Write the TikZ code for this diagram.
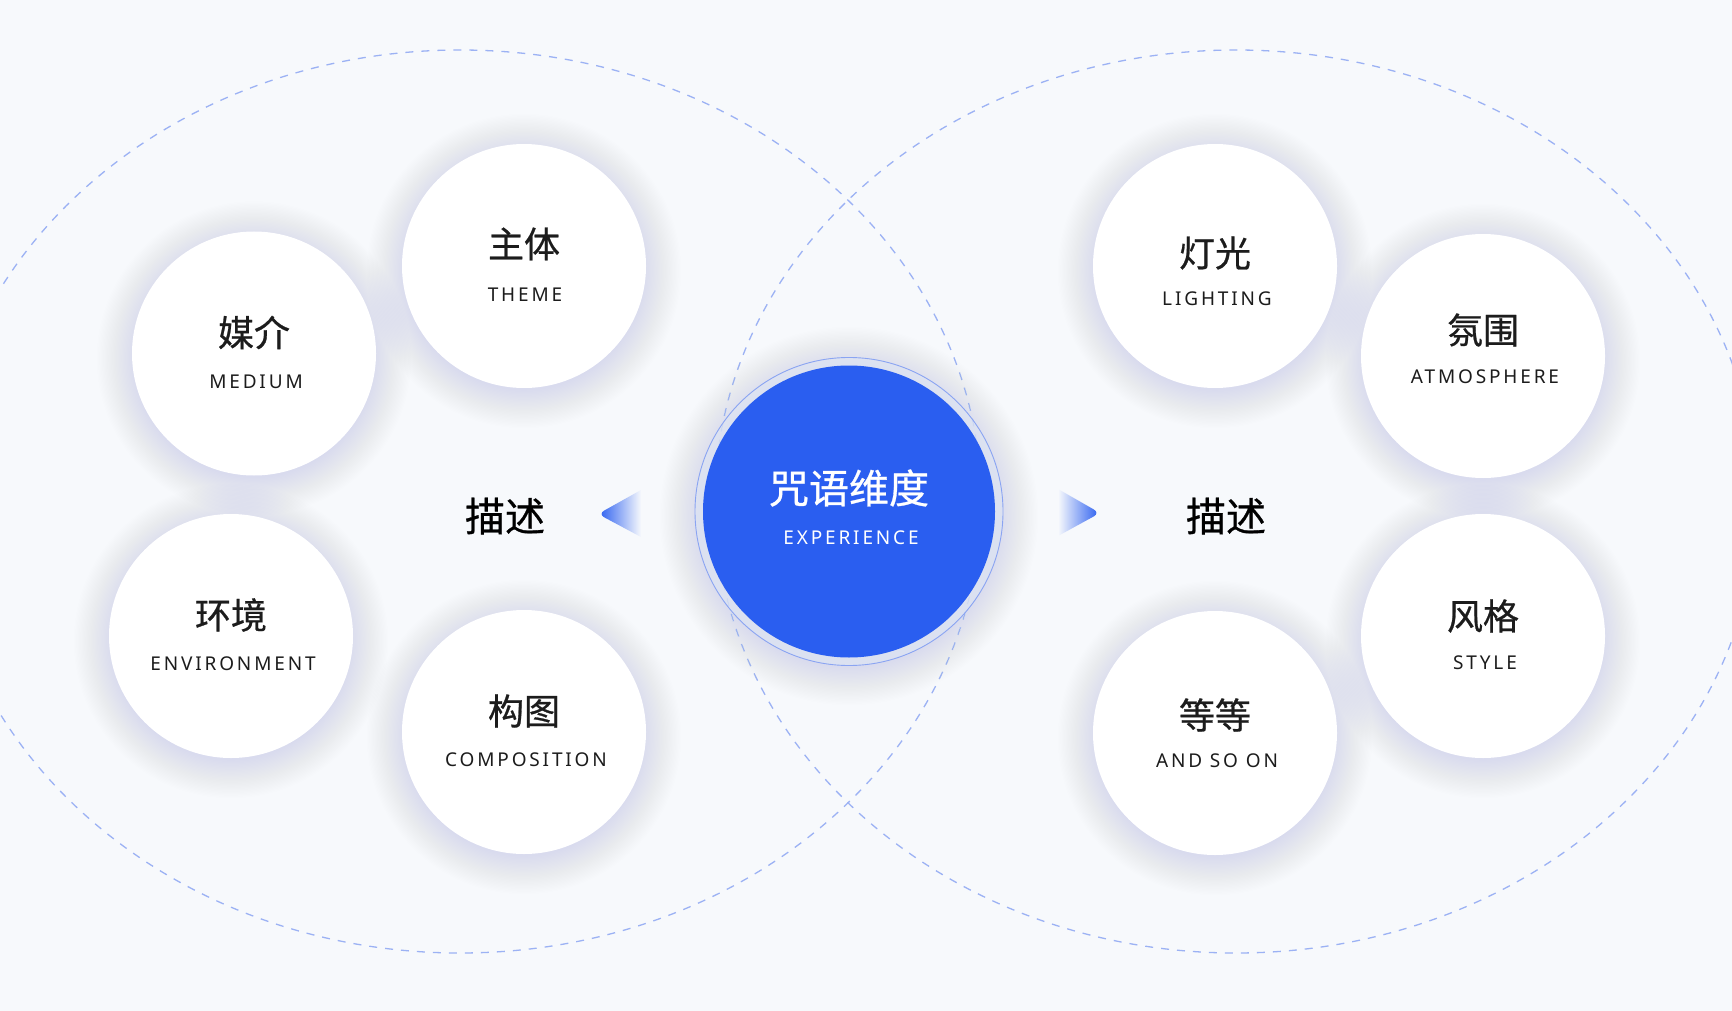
\documentclass[tikz,border=0pt]{standalone}
\usepackage{fontspec}
\setmainfont{Noto Sans CJK SC}
\newfontfamily\cjk[FakeBold=0.7]{Noto Sans CJK SC}
\newfontfamily\lat[LetterSpace=15]{Noto Sans}
\definecolor{bg}{HTML}{F7F9FC}
\definecolor{blue0}{HTML}{2A5EF0}
\definecolor{dashc}{HTML}{9CB2F4}
\definecolor{ringc}{HTML}{8AA4F2}
\definecolor{bandc}{HTML}{DDE4F3}
\definecolor{shadowc}{HTML}{CBD7EE}
\definecolor{txt}{HTML}{1C1C1C}
\tikzset{
  dashline/.style={draw=dashc, line width=1.3pt, dash pattern=on 8pt off 8pt},
  wcirc/.style={circle, fill=white, minimum size=244pt, inner sep=0pt},
  zh/.style={font=\cjk\fontsize{36}{36}\selectfont, text=txt, inner sep=0pt},
  en/.style={font=\lat\fontsize{19}{19}\selectfont, text=txt, inner sep=0pt},
  desc/.style={font=\cjk\fontsize{40}{40}\selectfont, text=black, inner sep=0pt},
}
\begin{document}
\begin{tikzpicture}[x=1pt,y=-1pt]
\fill[bg] (0,0) rectangle (1732,1011);
\useasboundingbox (0,0) rectangle (1732,1011);
% dashed ellipses
\draw[dashline] (460,501.5) ellipse [x radius=521, y radius=451.5];
\draw[dashline] (1236,501.5) ellipse [x radius=521, y radius=451.5];
% shadows of white circles
\foreach \cx/\cy in {524/266, 254/353.5, 231/636, 524/732, 1215/266, 1483/356, 1483/636, 1215/733}{
  \foreach \k in {1,...,30}{
    \fill[shadowc, fill opacity=0.009] (\cx,\cy+5) circle (118+1.3*\k);
  }
}
% center shadow
\foreach \k in {1,...,30}{
  \fill[shadowc, fill opacity=0.009] (849,516) circle (150+1.3*\k);
}
% white circles
\node[wcirc] (theme) at (524,266) {};
\node[wcirc] (medium) at (254,353.5) {};
\node[wcirc] (env) at (231,636) {};
\node[wcirc] (comp) at (524,732) {};
\node[wcirc] (light) at (1215,266) {};
\node[wcirc] (atmo) at (1483,356) {};
\node[wcirc] (style) at (1483,636) {};
\node[wcirc] (etc) at (1215,733) {};
% labels
\node[zh] (themeZ) at (524,244) {主体};
\node[en] (themeE) at (525,295) {THEME};
\node[zh] (mediumZ) at (254,332.5) {媒介};
\node[en] (mediumE) at (256,382) {MEDIUM};
\node[zh] (envZ) at (231,615) {环境};
\node[en] (envE) at (233,664) {ENVIRONMENT};
\node[zh] (compZ) at (524,711) {构图};
\node[en] (compE) at (526,760) {COMPOSITION};
\node[zh] (lightZ) at (1215,253) {灯光};
\node[en] (lightE) at (1217,299) {LIGHTING};
\node[zh] (atmoZ) at (1483,330) {氛围};
\node[en] (atmoE) at (1485,377) {ATMOSPHERE};
\node[zh] (styleZ) at (1483,616) {风格};
\node[en] (styleE) at (1485,663) {STYLE};
\node[zh] (etcZ) at (1215,715) {等等};
\node[en] (etcE) at (1217,761) {AND SO ON};
% center
\fill[bandc, fill opacity=0.75] (849,511.5) circle (154);
\draw[ringc, line width=0.9pt] (849,511.5) circle (154);
\node[circle, fill=blue0, minimum size=292pt, inner sep=0pt] (core) at (849,511.5) {};
\node[font=\cjk\fontsize{40}{40}\selectfont, text=white, inner sep=0pt] (coreZ) at (849,488) {咒语维度};
\node[font=\lat\fontsize{19}{19}\selectfont, text=white, inner sep=0pt] (coreE) at (851,538) {EXPERIENCE};
% describe labels
\node[desc] (descL) at (505,516) {描述};
\node[desc] (descR) at (1226,516) {描述};
% arrows
\shade[left color=blue0, right color=bg] (641,490) [rounded corners=7pt] -- (598,514) [sharp corners] -- (641,537) -- cycle;
\shade[left color=bg, right color=blue0] (1058,489) [rounded corners=7pt] -- (1100,513) [sharp corners] -- (1058,536) -- cycle;
\end{tikzpicture}
\end{document}
